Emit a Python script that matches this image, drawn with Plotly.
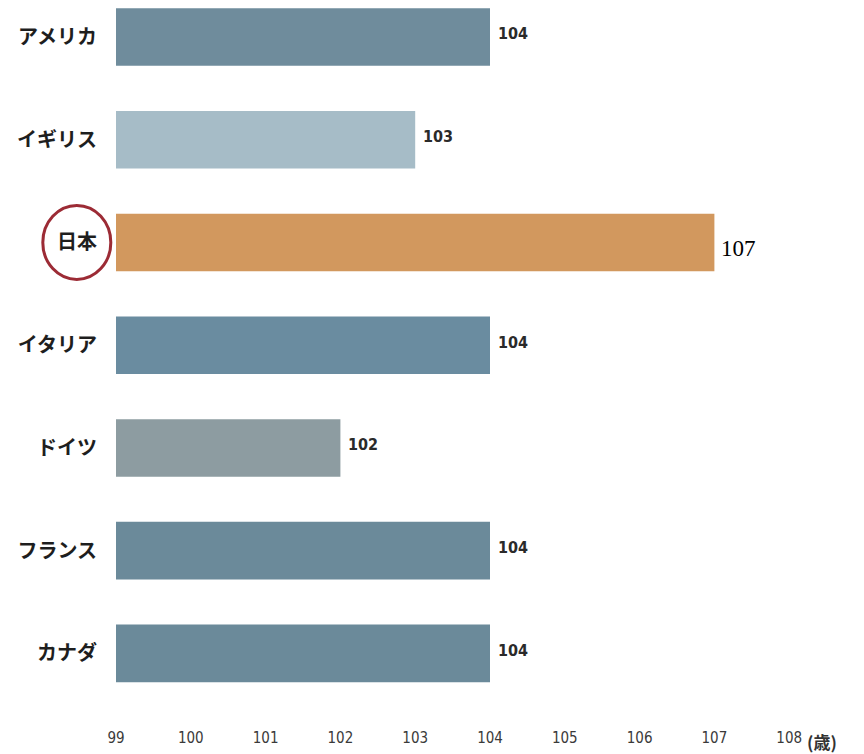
import plotly.graph_objects as go

countries = ["アメリカ", "イギリス", "日本", "イタリア", "ドイツ", "フランス", "カナダ"]
values = [104, 103, 107, 104, 102, 104, 104]
colors = ["#6f8c9c", "#a6bcc7", "#d2985e", "#6a8ca0", "#8d9ca1", "#6b8a9a", "#6b8a9a"]
tick_vals = [99, 100, 101, 102, 103, 104, 105, 106, 107, 108]
tick_text = ["99", "100", "101", "102", "103", "104", "105", "106", "107", "108"]
unit_label = "(歳)"
highlight = "日本"

base = 99
fig = go.Figure(go.Bar(
    y=countries,
    x=[v - base for v in values],
    base=base,
    orientation="h",
    marker=dict(color=colors, line=dict(width=0)),
    width=0.56,
    hoverinfo="skip",
))

for c, v in zip(countries, values):
    if c == highlight:
        fig.add_annotation(x=v, y=c, text=str(v), showarrow=False, xanchor="left",
                           xshift=5, yshift=-6,
                           font=dict(family="Liberation Serif, Times New Roman, serif", size=23, color="#000000"))
    else:
        fig.add_annotation(x=v, y=c, text="<b>%d</b>" % v, showarrow=False, xanchor="left",
                           xshift=6, yshift=3,
                           font=dict(family="DejaVu Sans Condensed, Liberation Sans Narrow, Arial", size=16, color="#2a2a2a"))

fig.add_annotation(x=108, y=0, yref="paper", xref="x", text="<b>" + unit_label + "</b>",
                   showarrow=False, xanchor="left", yanchor="top", xshift=16, yshift=-12,
                   font=dict(family="Noto Sans CJK JP", size=17, color="#333333"))

fig.add_shape(type="circle", xref="paper", yref="y",
              xsizemode="pixel", ysizemode="pixel",
              xanchor=-0.0524, yanchor=highlight,
              x0=-34, x1=34, y0=-37, y1=37,
              line=dict(color="#9c2b35", width=3))

fig.update_layout(
    width=864, height=754,
    margin=dict(l=116, r=0, t=0, b=39),
    paper_bgcolor="white", plot_bgcolor="white",
    showlegend=False,
    bargap=0.44,
    font=dict(family="Noto Sans CJK JP", color="#222222"),
)
fig.update_xaxes(range=[99, 109], tickvals=tick_vals, ticktext=tick_text,
                 showgrid=False, zeroline=False, showline=False, ticks="",
                 ticklabelstandoff=12,
                 tickfont=dict(family="DejaVu Sans Condensed, Liberation Sans Narrow, Arial", size=15, color="#3a3a3a"))
fig.update_yaxes(categoryorder="array", categoryarray=countries, range=[6.6, -0.36],
                 showgrid=False, zeroline=False, showline=False, ticks="",
                 ticklabelstandoff=18,
                 tickfont=dict(family="Noto Sans CJK JP", size=20, color="#1e1e1e", weight="bold"))

fig.write_html("out.html")
